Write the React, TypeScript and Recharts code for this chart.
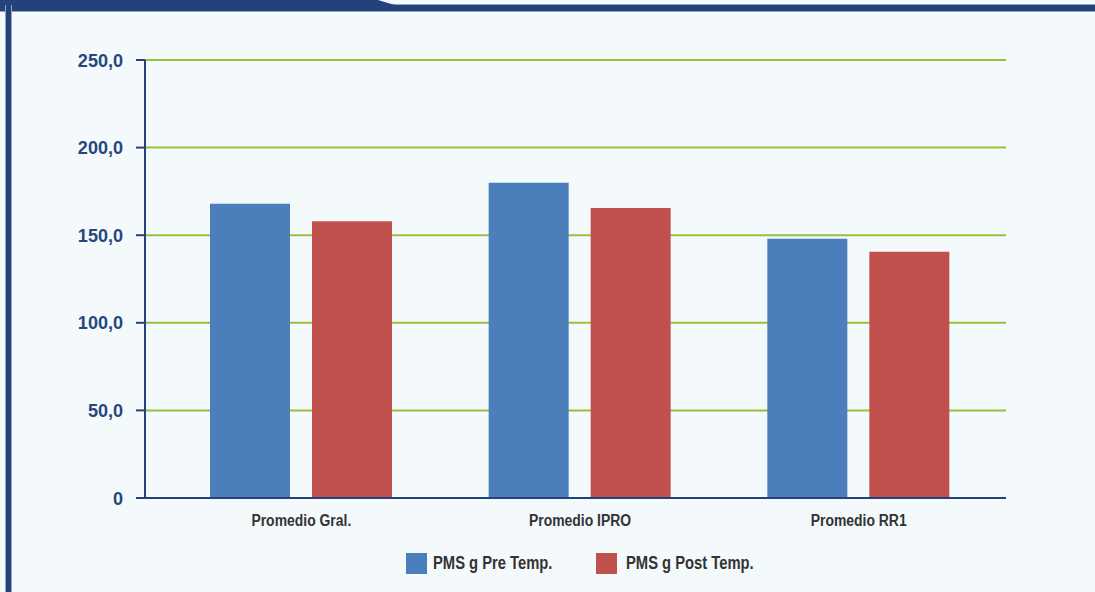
import { BarChart, Bar, XAxis, YAxis, CartesianGrid } from "recharts";

const categories = ["Promedio Gral.", "Promedio IPRO", "Promedio RR1"];
const preTemp = [168, 180, 148];
const postTemp = [158, 165.5, 140.5];
const yTicks = [0, 50, 100, 150, 200, 250];

const series = [
  { key: "pre", name: "PMS g Pre Temp.", color: "#4a7fbc" },
  { key: "post", name: "PMS g Post Temp.", color: "#c0504d" },
];

const rows = categories.map((c, i) => ({ label: c, pre: preTemp[i], post: postTemp[i] }));

const fmt = (v: number) => (v === 0 ? "0" : v.toFixed(1).replace(".", ","));

const navy = "#23427b";
const font = "'Liberation Sans', Arial, sans-serif";

// condensed look: squeeze Liberation Sans horizontally
const CatTick = (props: any) => {
  const { x, y, payload } = props;
  return (
    <g transform={`translate(${x},${y + 20}) scale(0.82,1)`}>
      <text textAnchor="middle" fill="#333" fontSize={17} fontWeight="bold" fontFamily={font}>
        {payload.value}
      </text>
    </g>
  );
};

const ValTick = (props: any) => {
  const { x, y, payload } = props;
  return (
    <g transform={`translate(${x},${y + 6.5}) scale(0.95,1)`}>
      <text textAnchor="end" fill="#27467e" fontSize={19} fontWeight="bold" fontFamily={font}>
        {fmt(payload.value)}
      </text>
    </g>
  );
};

export default function App() {
  return (
    <div style={{ position: "absolute", left: 0, top: 0, width: 1095, height: 592, background: "#f4f9fc", overflow: "hidden" }}>
      {/* frame */}
      <svg width={1095} height={592} style={{ position: "absolute", left: 0, top: 0 }}>
        <rect x={0} y={4} width={1095} height={8} fill="#8fa3c4" />
        <rect x={0} y={5} width={1095} height={6} fill={navy} />
        <polygon points="0,0 378,0 398,6 398,11 0,11" fill={navy} />
        <rect x={5} y={5} width={7} height={592} fill="#8fa3c4" />
        <rect x={6} y={5} width={5} height={592} fill={navy} />
      </svg>
      <div style={{ position: "absolute", left: 0, top: 0 }}>
        <BarChart width={1095} height={592} data={rows} margin={{ top: 60, right: 89, left: 0, bottom: 64 }} barSize={80} barGap={22}>
          <CartesianGrid vertical={false} stroke="#98c03c" strokeWidth={2} />
          <XAxis
            dataKey="label"
            height={30}
            padding={{ left: 17, right: 8 }}
            axisLine={{ stroke: navy, strokeWidth: 2 }}
            tickLine={false}
            tick={<CatTick />}
          />
          <YAxis
            width={145}
            domain={[0, 250]}
            ticks={yTicks}
            axisLine={{ stroke: navy, strokeWidth: 2 }}
            tickLine={{ stroke: navy, strokeWidth: 2 }}
            tickSize={9}
            tickMargin={13}
            tick={<ValTick />}
          />
          {series.map((s) => (
            <Bar key={s.key} dataKey={s.key} name={s.name} fill={s.color} isAnimationActive={false} />
          ))}
        </BarChart>
      </div>
      {/* legend */}
      {series.map((s, i) => (
        <div key={s.key} style={{ position: "absolute", left: 406 + i * 190, top: 553, display: "flex", alignItems: "center" }}>
          <div style={{ width: 21, height: 21, background: s.color }} />
          <span
            style={{
              marginLeft: 6 + i * 3,
              lineHeight: "21px",
              fontFamily: font,
              fontWeight: "bold",
              fontSize: 18,
              color: "#333",
              whiteSpace: "nowrap",
              display: "inline-block",
              transform: "scaleX(0.82)",
              transformOrigin: "left center",
            }}
          >
            {s.name}
          </span>
        </div>
      ))}
    </div>
  );
}
